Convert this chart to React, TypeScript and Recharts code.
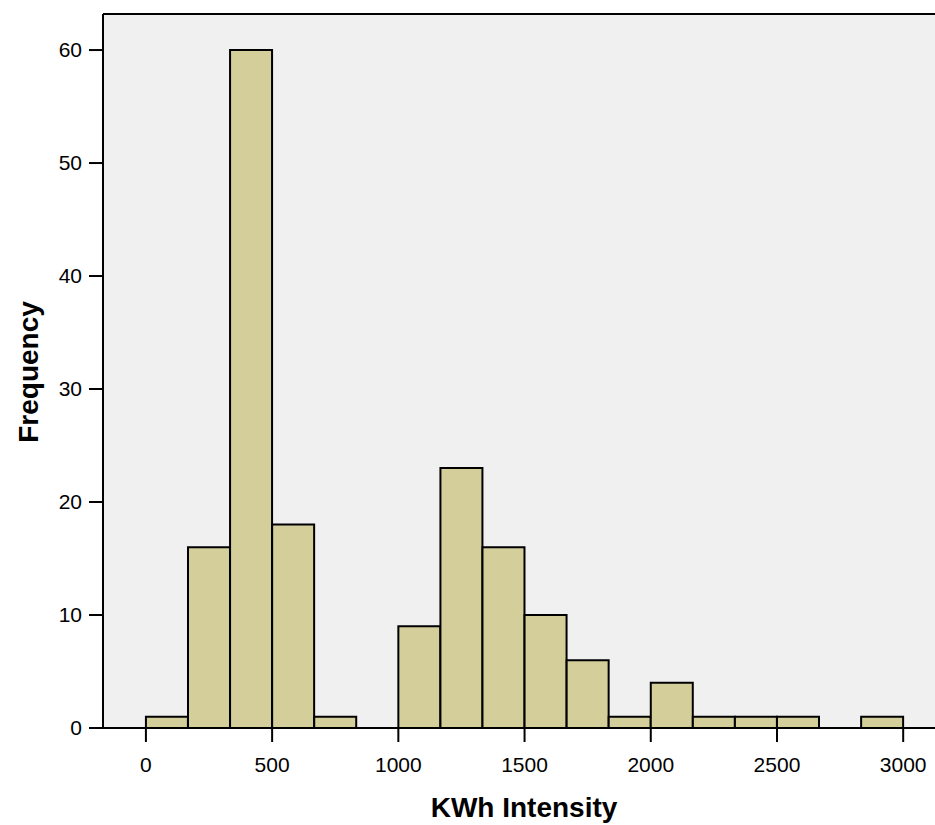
import { Bar, BarChart, CartesianGrid, ReferenceLine, XAxis, YAxis } from "recharts";

// histogram bins (left edge of each bin, kWh)
const binStarts = [
  0, 166.7, 333.3, 500, 666.7, 833.3, 1000, 1166.7, 1333.3, 1500, 1666.7, 1833.3,
  2000, 2166.7, 2333.3, 2500, 2666.7, 2833.3,
];
const binWidth = 166.7;
const frequencies = [1, 16, 60, 18, 1, 0, 9, 23, 16, 10, 6, 1, 4, 1, 1, 1, 0, 1];

const xTicks = [0, 500, 1000, 1500, 2000, 2500, 3000];
const yTicks = [0, 10, 20, 30, 40, 50, 60];
const xDomain = [-170, 3126];
const yMax = 63.19;

const data = binStarts.map((start, i) => ({
  mid: start + binWidth / 2,
  count: frequencies[i],
}));

const font = "'Liberation Sans', Arial, sans-serif";

export default function App() {
  return (
    <div style={{ position: "absolute", left: 0, top: 0, fontFamily: font }}>
      <BarChart
        width={935}
        height={825}
        data={data}
        margin={{ top: 14, right: 0, bottom: 0, left: 0 }}
      >
        <CartesianGrid fill="#F0F0F0" horizontal={false} vertical={false} stroke="none" />
        <XAxis
          type="number"
          dataKey="mid"
          domain={xDomain}
          ticks={xTicks}
          allowDataOverflow
          height={97}
          tickSize={14}
          tickMargin={15}
          axisLine={{ stroke: "#000", strokeWidth: 2 }}
          tickLine={{ stroke: "#000", strokeWidth: 2 }}
          tick={{ fill: "#000", fontSize: 21, fontFamily: font }}
          label={{
            content: () => (
              <text
                x={524}
                y={817}
                textAnchor="middle"
                fontSize={28}
                fontWeight="bold"
                fontFamily={font}
                fill="#000"
              >
                KWh Intensity
              </text>
            ),
          }}
        />
        <YAxis
          type="number"
          domain={[0, yMax]}
          ticks={yTicks}
          allowDataOverflow
          width={103}
          tickSize={14}
          tickMargin={7}
          axisLine={{ stroke: "#000", strokeWidth: 2 }}
          tickLine={{ stroke: "#000", strokeWidth: 2 }}
          tick={{ fill: "#000", fontSize: 21, fontFamily: font }}
          label={{
            content: () => (
              <text
                x={38}
                y={372}
                transform="rotate(-90 38 372)"
                textAnchor="middle"
                fontSize={28}
                fontWeight="bold"
                fontFamily={font}
                fill="#000"
              >
                Frequency
              </text>
            ),
          }}
        />
        <ReferenceLine y={yMax} stroke="#000" strokeWidth={2} />
        <Bar
          dataKey="count"
          barSize={42}
          fill="#D3CE9A"
          stroke="#000"
          strokeWidth={2}
          isAnimationActive={false}
        />
      </BarChart>
    </div>
  );
}
